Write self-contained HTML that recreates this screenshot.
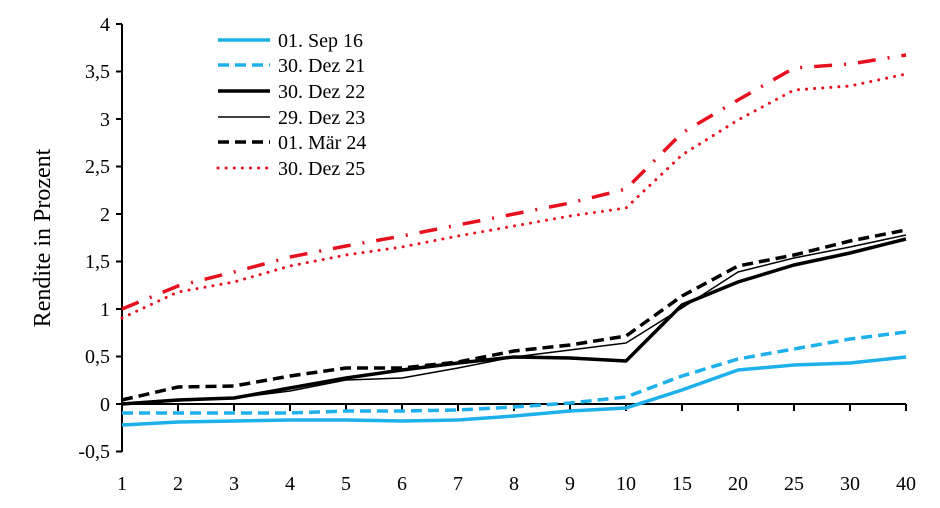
<!DOCTYPE html>
<html><head><meta charset="utf-8"><style>body{margin:0;background:#fff}svg{display:block}text{font-family:"Liberation Serif",serif;font-size:20px;fill:#000}</style></head><body>
<svg width="940" height="508" viewBox="0 0 940 508">
<g stroke="#000" stroke-width="2">
<line x1="122" y1="24" x2="122" y2="452"/>
<line x1="122" y1="404" x2="906" y2="404"/>
<g>
<line x1="116" y1="24" x2="122" y2="24"/><line x1="116" y1="71.5" x2="122" y2="71.5"/><line x1="116" y1="119" x2="122" y2="119"/><line x1="116" y1="166.5" x2="122" y2="166.5"/><line x1="116" y1="214" x2="122" y2="214"/><line x1="116" y1="261.5" x2="122" y2="261.5"/><line x1="116" y1="309" x2="122" y2="309"/><line x1="116" y1="356.5" x2="122" y2="356.5"/><line x1="116" y1="404" x2="122" y2="404"/><line x1="116" y1="451.5" x2="122" y2="451.5"/>
</g>
<path d="M178 404v7M234 404v7M290 404v7M346 404v7M402 404v7M458 404v7M514 404v7M570 404v7M626 404v7M682 404v7M738 404v7M794 404v7M850 404v7M906 404v7"/>
</g>
<g text-anchor="end">
<text x="110" y="31">4</text><text x="110" y="78">3,5</text><text x="110" y="126">3</text><text x="110" y="173">2,5</text><text x="110" y="221">2</text><text x="110" y="268">1,5</text><text x="110" y="316">1</text><text x="110" y="363">0,5</text><text x="110" y="411">0</text><text x="110" y="458">-0,5</text>
</g>
<g text-anchor="middle">
<text x="122" y="490">1</text><text x="178" y="490">2</text><text x="234" y="490">3</text><text x="290" y="490">4</text><text x="346" y="490">5</text><text x="402" y="490">6</text><text x="458" y="490">7</text><text x="514" y="490">8</text><text x="570" y="490">9</text><text x="626" y="490">10</text><text x="682" y="490">15</text><text x="738" y="490">20</text><text x="794" y="490">25</text><text x="850" y="490">30</text><text x="906" y="490">40</text>
</g>
<text transform="translate(50 238) rotate(-90)" text-anchor="middle" style="font-size:24px">Rendite in Prozent</text>
<g fill="none" stroke-linejoin="round">
<polyline stroke="#1eb0ea" stroke-width="3.5" points="122,425 178,422 234,421 290,420 346,420 402,421 458,420 514,416 570,411 626,408 682,390 738,370 794,365 850,363 906,357"/>
<polyline stroke="#1eb0ea" stroke-width="3.5" stroke-dasharray="11,6" points="122,413 178,413 234,413 290,413 346,411 402,411 458,410 514,407 570,403 626,397 682,376 738,359 794,349 850,339 906,332"/>
<polyline stroke="#000" stroke-width="3.5" points="122,404 178,400 234,398 290,388 346,378 402,370 458,363 514,357 570,358 626,361 682,305 738,282 794,265 850,253 906,239"/>
<polyline stroke="#000" stroke-width="1.5" points="122,403 178,401 234,398 290,391 346,380 402,378 458,368 514,357 570,350 626,343 682,308 738,272 794,258 850,247 906,235"/>
<polyline stroke="#000" stroke-width="3.5" stroke-dasharray="11,6" points="122,400 178,387 234,386 290,376 346,368 402,368 458,362 514,351 570,345 626,336 682,296 738,266 794,255 850,241 906,230"/>
<polyline stroke="#e8101e" stroke-width="3.5" stroke-dasharray="18,12,2,12" points="122,309 178,286 234,272 290,257 346,246 402,236 458,225 514,214 570,203 626,189 682,133 738,100 794,68 850,64 906,55"/>
<polyline stroke="#e8101e" stroke-width="3" stroke-dasharray="0.1,8" stroke-linecap="round" points="122,318 178,292 234,282 290,266 346,255 402,247 458,236 514,226 570,216 626,208 682,155 738,120 794,90 850,86 906,74"/>
<line x1="218" y1="40" x2="270" y2="40" stroke="#1eb0ea" stroke-width="3.5"/>
<line x1="218" y1="65" x2="270" y2="65" stroke="#1eb0ea" stroke-width="3.5" stroke-dasharray="11,6"/>
<line x1="218" y1="91" x2="270" y2="91" stroke="#000" stroke-width="3.5"/>
<line x1="218" y1="117" x2="270" y2="117" stroke="#000" stroke-width="1.5"/>
<line x1="218" y1="142" x2="270" y2="142" stroke="#000" stroke-width="3.5" stroke-dasharray="11,6"/>
<line x1="218" y1="168" x2="270" y2="168" stroke="#e8101e" stroke-width="3" stroke-dasharray="0.1,8" stroke-linecap="round"/>
</g>
<text x="278" y="47">01. Sep 16</text>
<text x="278" y="72">30. Dez 21</text>
<text x="278" y="98">30. Dez 22</text>
<text x="278" y="124">29. Dez 23</text>
<text x="278" y="149">01. Mär 24</text>
<text x="278" y="175">30. Dez 25</text>
</svg>
</body></html>
